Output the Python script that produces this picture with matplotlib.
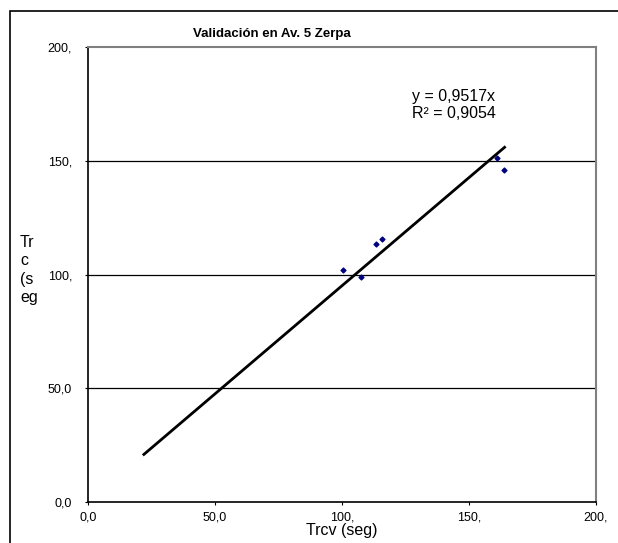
import numpy as np
import matplotlib.pyplot as plt
from matplotlib.patches import Rectangle

plt.rcParams['font.family'] = ['Liberation Sans', 'DejaVu Sans']

# datos
trcv = [100.4, 107.5, 113.5, 115.6, 160.9, 163.8]
trc = [102.3, 98.8, 113.5, 115.6, 151.5, 146.0]
pendiente = 0.9517
r2 = 0.9054
x_linea = [22.0, 164.0]
ticks = [0, 50, 100, 150, 200]
tick_labels = ['0,0', '50,0', '100,', '150,', '200,']

fig = plt.figure(figsize=(6.18, 5.43), dpi=100)
fig.patches.append(Rectangle((10 / 618, -0.1), 1.2, 1 - 11 / 543 + 0.1, transform=fig.transFigure,
                             fill=False, edgecolor='black', linewidth=1.2))
ax = fig.add_axes([88 / 618, 41 / 543, 508 / 618, 454.5 / 543])

for g in [50, 100, 150]:
    ax.axhline(g, color='black', linewidth=0.9, zorder=1)

xl = np.array(x_linea)
ax.plot(xl, pendiente * xl, color='black', linewidth=2, zorder=2)
ax.scatter(trcv, trc, marker='D', s=6, color='#000080', zorder=3)

ax.set_xlim(0, 200)
ax.set_ylim(0, 200)
ax.set_xticks(ticks)
ax.set_xticklabels(tick_labels)
ax.set_yticks(ticks)
ax.set_yticklabels(tick_labels)
ax.tick_params(direction='out', length=2.5, width=0.8, labelsize=9, colors='black')
ax.tick_params(axis='y', pad=9)
ax.tick_params(axis='x', pad=4)

for s in ['left', 'bottom']:
    ax.spines[s].set_color('black')
    ax.spines[s].set_linewidth(1.2)
for s in ['top', 'right']:
    ax.spines[s].set_color('#808080')
    ax.spines[s].set_linewidth(1.5)

fig.text(272 / 618, 1 - 34 / 543, 'Validación en Av. 5 Zerpa', ha='center', va='center',
         fontsize=9.5, fontweight='bold')
fig.text(342 / 618, 1 - 530 / 543, 'Trcv (seg)', ha='center', va='center', fontsize=11.5)
fig.text(20 / 618, 1 - 270 / 543, 'Tr\nc\n(s\neg', ha='left', va='center', fontsize=11.5,
         linespacing=1.28)
ax.text(0.72, 0.873, 'y = 0,9517x\nR² = 0,9054', transform=ax.transAxes, ha='center',
        va='center', fontsize=11.5, linespacing=1.15)

fig.savefig('out.png', dpi=100)
